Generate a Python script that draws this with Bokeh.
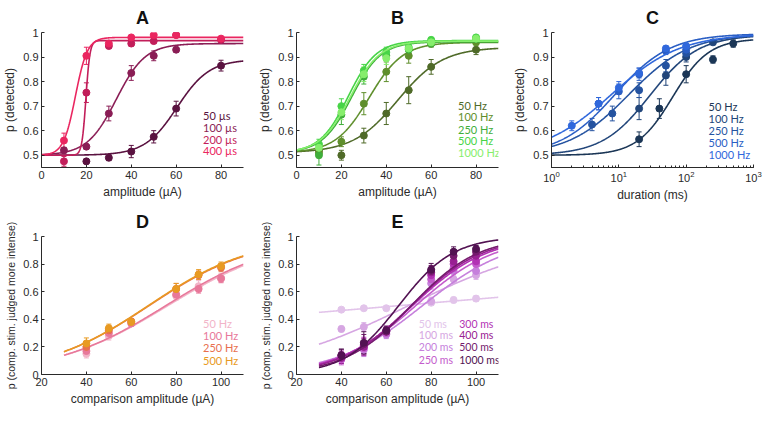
import numpy as np
from bokeh.plotting import figure
from bokeh.layouts import gridplot
from bokeh.models import (ColumnDataSource, Whisker, Label, FixedTicker,
                          CustomJSTickFormatter, Range1d, TeeHead)
from bokeh.embed import file_html
from bokeh.resources import INLINE

# ---------------- Panel A: amplitude, pulse width ----------------
A_labels = ["50 µs", "100 µs", "200 µs", "400 µs"]
A_colors = ["#5a1240", "#8a1d55", "#c21e5a", "#ea2660"]
A_x = [[20, 30, 40, 50, 60, 80],
       [10, 20, 30, 40, 50, 60],
       [10, 20, 30, 40, 50, 60, 80],
       [10, 20, 30, 40, 50, 60, 80]]
A_y = [[0.475, 0.49, 0.515, 0.575, 0.69, 0.865],
       [0.52, 0.535, 0.67, 0.835, 0.905, 0.93],
       [0.475, 0.755, 0.945, 0.955, 0.965, 0.99, 0.97],
       [0.56, 0.905, 0.955, 0.98, 0.99, 0.99, 0.975]]
A_err = [[0.01, 0.012, 0.025, 0.025, 0.03, 0.022],
         [0.012, 0.01, 0.03, 0.03, 0.02, 0.01],
         [0.02, 0.04, 0.01, 0.01, 0.01, 0.01, 0.01],
         [0.03, 0.035, 0.01, 0.008, 0.008, 0.008, 0.01]]
# fitted psychometric parameters: midpoint, spread, lower, upper
A_fit = [(60.4, 7.2, 0.5, 0.89), (33.3, 6.47, 0.5, 0.955),
         (19.8, 0.9, 0.5, 0.967), (15.1, 2.67, 0.5, 0.98)]

# ---------------- Panel B: amplitude, frequency ----------------
B_labels = ["50 Hz", "100 Hz", "250 Hz", "500 Hz", "1000 Hz"]
B_colors = ["#4f6a28", "#5f8f2c", "#3fae3a", "#47d447", "#86ee6c"]
B_xv = [10, 20, 30, 40, 50, 60, 80]
B_y = [[0.52, 0.50, 0.58, 0.67, 0.765, 0.86, 0.93],
       [0.51, 0.555, 0.71, 0.84, 0.905, 0.955, 0.96],
       [0.50, 0.665, 0.82, 0.905, 0.93, 0.955, 0.975],
       [0.545, 0.70, 0.845, 0.92, 0.94, 0.97, 0.98],
       [0.53, 0.675, 0.83, 0.895, 0.935, 0.96, 0.975]]
B_err = [[0.02, 0.02, 0.03, 0.045, 0.055, 0.03, 0.02],
         [0.02, 0.02, 0.045, 0.04, 0.03, 0.015, 0.01],
         [0.04, 0.04, 0.03, 0.02, 0.015, 0.01, 0.01],
         [0.02, 0.03, 0.025, 0.02, 0.015, 0.01, 0.008],
         [0.02, 0.03, 0.03, 0.025, 0.015, 0.01, 0.01]]
B_fit = [(45.2, 10.0, 0.51, 0.94), (32.4, 7.5, 0.51, 0.96),
         (24.5, 6.5, 0.51, 0.962), (23.0, 6.3, 0.51, 0.967),
         (24.0, 6.6, 0.51, 0.965)]

# ---------------- Panel C: duration ----------------
C_labels = ["50 Hz", "100 Hz", "250 Hz", "500 Hz", "1000 Hz"]
C_colors = ["#1b3656", "#22467a", "#2553a0", "#2a5ec4", "#3068dc"]
C_x = [[20, 40, 100, 250, 500],
       [20, 50, 100, 250],
       [4, 8, 20, 50, 100],
       [5, 10, 20, 50, 100],
       [2, 5, 10, 20, 50, 100]]
C_y = [[0.565, 0.69, 0.83, 0.89, 0.955],
       [0.69, 0.825, 0.90, 0.96],
       [0.625, 0.67, 0.765, 0.865, 0.915],
       [0.71, 0.76, 0.83, 0.925, 0.93],
       [0.62, 0.71, 0.775, 0.835, 0.935, 0.945]]
C_err = [[0.03, 0.04, 0.035, 0.015, 0.015],
         [0.045, 0.04, 0.02, 0.01],
         [0.025, 0.03, 0.03, 0.025, 0.02],
         [0.025, 0.03, 0.025, 0.015, 0.01],
         [0.02, 0.025, 0.025, 0.02, 0.01, 0.01]]
# fit in log10(duration)
C_fit = [(1.80, 0.267, 0.5, 0.975), (1.466, 0.358, 0.5, 0.99),
         (1.15, 0.45, 0.5, 0.995), (0.943, 0.41, 0.5, 0.995),
         (0.89, 0.51, 0.5, 0.995)]

# ---------------- Panel D: discrimination, frequency ----------------
D_labels = ["50 Hz", "100 Hz", "250 Hz", "500 Hz"]
D_colors = ["#f2b4c8", "#e8789a", "#e8704e", "#e89a22"]
D_xv = [40, 50, 60, 80, 90, 100]
D_y = [[0.15, 0.28, 0.37, 0.57, 0.64, 0.70],
       [0.17, 0.30, 0.37, 0.58, 0.62, 0.695],
       [0.20, 0.32, 0.385, 0.62, 0.72, 0.775],
       [0.225, 0.335, 0.38, 0.62, 0.725, 0.785]]
D_err = [[0.03, 0.03, 0.02, 0.03, 0.04, 0.03],
         [0.03, 0.03, 0.02, 0.02, 0.03, 0.03],
         [0.04, 0.03, 0.02, 0.04, 0.03, 0.03],
         [0.04, 0.03, 0.02, 0.04, 0.035, 0.03]]
D_fit = [(76.4, 25.5, 0.0, 1.0), (75.5, 25.0, 0.0, 1.0),
         (68.0, 23.5, 0.0, 1.0), (67.7, 23.3, 0.0, 1.0)]

# ---------------- Panel E: discrimination, duration ----------------
E_labels = ["50 ms", "100 ms", "200 ms", "250 ms",
            "300 ms", "400 ms", "500 ms", "1000 ms"]
E_colors = ["#e2c4ea", "#d6a6e2", "#c680dc", "#c45ccc",
            "#b232b4", "#982092", "#741a6c", "#521252"]
E_xv = [40, 50, 60, 80, 90, 100]
E_y = [[0.47, 0.48, 0.48, 0.52, 0.54, 0.55],
       [0.33, 0.345, 0.31, 0.53, 0.69, 0.72],
       [0.12, 0.18, 0.29, 0.66, 0.75, 0.75],
       [0.11, 0.19, 0.30, 0.69, 0.77, 0.80],
       [0.13, 0.21, 0.31, 0.72, 0.80, 0.82],
       [0.12, 0.20, 0.32, 0.74, 0.82, 0.86],
       [0.14, 0.22, 0.31, 0.75, 0.86, 0.89],
       [0.14, 0.23, 0.32, 0.76, 0.89, 0.91]]
E_err = [[0.015, 0.015, 0.015, 0.02, 0.02, 0.02],
         [0.02, 0.03, 0.02, 0.03, 0.03, 0.03],
         [0.04, 0.05, 0.03, 0.04, 0.04, 0.03],
         [0.04, 0.05, 0.03, 0.04, 0.04, 0.03],
         [0.04, 0.06, 0.03, 0.04, 0.04, 0.03],
         [0.04, 0.06, 0.03, 0.04, 0.04, 0.03],
         [0.04, 0.07, 0.03, 0.04, 0.035, 0.03],
         [0.045, 0.08, 0.03, 0.045, 0.035, 0.025]]
E_fit = [(66.4, 182.0, 0.0, 1.0), (70.0, 31.5, 0.0, 1.0),
         (76.2, 19.5, 0.0, 1.0), (73.2, 17.7, 0.0, 1.0),
         (71.7, 16.6, 0.0, 1.0), (71.2, 15.9, 0.0, 1.0),
         (71.2, 15.0, 0.0, 1.0), (65.6, 12.1, 0.0, 1.0)]

FONT = "Liberation Sans"
LEG_FONT = "Lato"
AXC = "#2a2a2a"


def psy(xs, m, s, lo, hi):
    return lo + (hi - lo) / (1.0 + np.exp(-(xs - m) / s))


def make_fig(title, xlabel, ylabel, xr, yr, yticks, xticks=None, log=False,
             ylab_size="12px"):
    kw = dict(x_axis_type="log") if log else {}
    p = figure(width=255, height=204, output_backend="svg",
               toolbar_location=None, x_range=Range1d(*xr),
               y_range=Range1d(*yr), min_border_left=40, min_border_right=12,
               min_border_top=22, min_border_bottom=34, **kw)
    p.title.text = title
    p.title.align = "center"
    p.title.text_font = FONT
    p.title.text_font_size = "18px"
    p.title.text_font_style = "bold"
    p.title.text_color = "#111111"
    p.title.offset = 0
    p.outline_line_color = None
    p.xgrid.visible = False
    p.ygrid.visible = False
    p.background_fill_color = "white"
    p.border_fill_color = "white"
    p.xaxis.axis_label = xlabel
    p.yaxis.axis_label = ylabel
    for ax in (p.xaxis[0], p.yaxis[0]):
        ax.axis_line_color = AXC
        ax.major_tick_line_color = AXC
        ax.major_tick_in = 3
        ax.major_tick_out = 0
        ax.minor_tick_line_color = None
        ax.major_label_text_font = FONT
        ax.major_label_text_font_size = "11px"
        ax.major_label_text_color = AXC
        ax.axis_label_text_font = FONT
        ax.axis_label_text_font_style = "normal"
        ax.axis_label_text_color = AXC
        ax.axis_label_standoff = 3
        ax.major_label_standoff = 3
    p.xaxis.axis_label_text_font_size = "12px"
    p.yaxis.axis_label_text_font_size = ylab_size
    p.yaxis.ticker = FixedTicker(ticks=yticks)
    p.yaxis.formatter = CustomJSTickFormatter(
        code="return Number(tick.toFixed(2)).toString();")
    if xticks is not None:
        p.xaxis.ticker = FixedTicker(ticks=xticks)
    if log:
        p.xaxis.minor_tick_line_color = AXC
        p.xaxis.minor_tick_in = 2
        p.xaxis.minor_tick_out = 0
    return p


def add_series(p, xs, ys, errs, color, fit, xgrid, logfit=False):
    gx = np.log10(xgrid) if logfit else xgrid
    p.line(xgrid, psy(gx, *fit), line_color=color, line_width=1.6)
    xs = np.array(xs, dtype=float)
    ys = np.array(ys, dtype=float)
    es = np.array(errs, dtype=float)
    src = ColumnDataSource(dict(x=xs, y=ys, lo=ys - es, hi=ys + es))
    w = Whisker(base="x", lower="lo", upper="hi", source=src,
                line_color=color, line_width=1,
                upper_head=TeeHead(size=5, line_color=color, line_width=1),
                lower_head=TeeHead(size=5, line_color=color, line_width=1))
    p.add_layout(w)
    p.scatter("x", "y", source=src, size=7, fill_color=color,
              line_color=color)


def add_legend(p, labels, colors, xs, ys, size="11px"):
    for t, c, x, y in zip(labels, colors, xs, ys):
        p.add_layout(Label(x=x, y=y, text=t, text_color=c,
                           text_font=LEG_FONT, text_font_size=size,
                           text_baseline="middle", text_align="left"))


# Panel A
pA = make_fig("A", "amplitude (µA)", "p (detected)", (0, 90), (0.45, 1.0),
              [0.5, 0.6, 0.7, 0.8, 0.9, 1.0], [0, 20, 40, 60, 80])
gA = np.linspace(0, 90, 400)
for i in range(len(A_labels)):
    add_series(pA, A_x[i], A_y[i], A_err[i], A_colors[i], A_fit[i], gA)
add_legend(pA, A_labels, A_colors, [72] * 4, [0.661, 0.613, 0.566, 0.518])

# Panel B
pB = make_fig("B", "amplitude (µA)", "p (detected)", (0, 90), (0.45, 1.0),
              [0.5, 0.6, 0.7, 0.8, 0.9, 1.0], [0, 20, 40, 60, 80])
gB = np.linspace(0, 90, 400)
for i in range(len(B_labels)):
    add_series(pB, B_xv, B_y[i], B_err[i], B_colors[i], B_fit[i], gB)
add_legend(pB, B_labels, B_colors, [72] * 5,
           [0.704, 0.657, 0.606, 0.558, 0.511])

# Panel C
pC = make_fig("C", "duration (ms)", "p (detected)", (1, 1000), (0.45, 1.0),
              [0.5, 0.6, 0.7, 0.8, 0.9, 1.0], None, log=True)
gC = np.logspace(0, 3, 400)
for i in range(len(C_labels)):
    add_series(pC, C_x[i], C_y[i], C_err[i], C_colors[i], C_fit[i], gC,
               logfit=True)
add_legend(pC, C_labels, C_colors, [215] * 5,
           [0.697, 0.650, 0.602, 0.551, 0.504])

# Panel D
ylabD = "p (comp. stim. judged more intense)"
pD = make_fig("D", "comparison amplitude (µA)", ylabD, (20, 110), (0, 1),
              [0, 0.2, 0.4, 0.6, 0.8, 1.0], [20, 40, 60, 80, 100],
              ylab_size="10.5px")
gD = np.linspace(30, 110, 300)
for i in range(len(D_labels)):
    add_series(pD, D_xv, D_y[i], D_err[i], D_colors[i], D_fit[i], gD)
add_legend(pD, D_labels, D_colors, [92] * 4, [0.368, 0.283, 0.197, 0.105])

# Panel E
pE = make_fig("E", "comparison amplitude (µA)", ylabD, (20, 110), (0, 1),
              [0, 0.2, 0.4, 0.6, 0.8, 1.0], [20, 40, 60, 80, 100],
              ylab_size="10.5px")
gE = np.linspace(30, 110, 300)
for i in range(len(E_labels)):
    add_series(pE, E_xv, E_y[i], E_err[i], E_colors[i], E_fit[i], gE)
rows = [0.368, 0.283, 0.197, 0.105]
add_legend(pE, E_labels, E_colors, [74.5] * 4 + [92.5] * 4, rows + rows,
           size="10.5px")

grid = gridplot([[pA, pB, pC], [pD, pE, None]], toolbar_location=None)

open("out.html", "w").write(file_html(grid, INLINE))
